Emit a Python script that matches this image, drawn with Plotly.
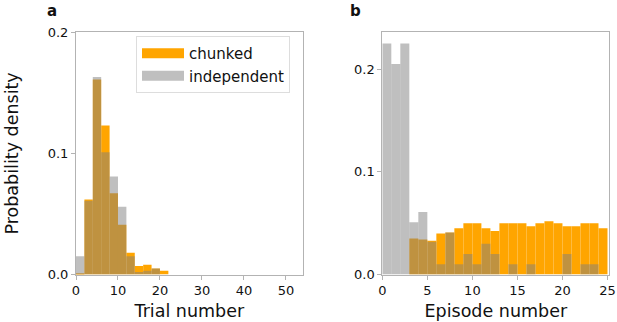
import plotly.graph_objects as go

# ---- data: panel a (trial number, bin width 2) ----
trial_bin_left = [0, 2, 4, 6, 8, 10, 12, 14, 16, 18, 20]
trial_bin_width = 2
trial_chunked = [0.001, 0.062, 0.161, 0.123, 0.067, 0.041, 0.018, 0.007, 0.008, 0.005, 0.003]
trial_independent = [0.015, 0.061, 0.163, 0.101, 0.081, 0.056, 0.015, 0.002, 0.003, 0.005, 0.0]

# ---- data: panel b (episode number, bin width 1) ----
episode_bin_left = list(range(0, 25))
episode_bin_width = 1
episode_chunked = [0.0, 0.0, 0.0, 0.035, 0.034, 0.033, 0.040, 0.041, 0.045, 0.050,
                   0.050, 0.045, 0.0425, 0.050, 0.050, 0.050, 0.047, 0.050, 0.052, 0.050,
                   0.047, 0.047, 0.050, 0.050, 0.045]
episode_independent = [0.225, 0.205, 0.225, 0.051, 0.061, 0.032, 0.010, 0.041, 0.010, 0.020,
                       0.010, 0.030, 0.020, 0.0, 0.010, 0.0, 0.010, 0.0, 0.0, 0.0,
                       0.020, 0.0, 0.010, 0.010, 0.0]

x_ticks_a = [0, 10, 20, 30, 40, 50]
x_ticks_b = [0, 5, 10, 15, 20, 25]
y_ticks = [0.0, 0.1, 0.2]
series_names = ["chunked", "independent"]

ORANGE = "#FFA500"
GRAY = "rgba(128,128,128,0.5)"
FONT = "DejaVu Sans"
SPINE = "#b3b3b3"
W, H = 617, 322

fig = go.Figure()

def centers(lefts, w):
    return [l + w / 2 for l in lefts]

fig.add_trace(go.Bar(x=centers(trial_bin_left, trial_bin_width), y=trial_chunked,
                     width=trial_bin_width, marker=dict(color=ORANGE, line=dict(width=0)),
                     showlegend=False, xaxis="x", yaxis="y"))
fig.add_trace(go.Bar(x=centers(trial_bin_left, trial_bin_width), y=trial_independent,
                     width=trial_bin_width, marker=dict(color=GRAY, line=dict(width=0)),
                     showlegend=False, xaxis="x", yaxis="y"))
fig.add_trace(go.Bar(x=centers(episode_bin_left, episode_bin_width), y=episode_chunked,
                     width=episode_bin_width, marker=dict(color=ORANGE, line=dict(width=0)),
                     showlegend=False, xaxis="x2", yaxis="y2"))
fig.add_trace(go.Bar(x=centers(episode_bin_left, episode_bin_width), y=episode_independent,
                     width=episode_bin_width, marker=dict(color=GRAY, line=dict(width=0)),
                     showlegend=False, xaxis="x2", yaxis="y2"))

# legend proxies
for name, col in zip(series_names, [ORANGE, "rgb(191,191,191)"]):
    fig.add_trace(go.Scatter(x=[None], y=[None], mode="lines", name=name,
                             line=dict(color=col, width=10), xaxis="x", yaxis="y"))

ydom = [1 - 274.5 / H, 1 - 32.3 / H]
axis_common = dict(showline=True, mirror=True, linecolor=SPINE, linewidth=1,
                   ticks="outside", ticklen=4, tickcolor=SPINE, tickwidth=1,
                   showgrid=False, zeroline=False, automargin=False,
                   tickfont=dict(family=FONT, size=13, color="#111"))

fig.update_layout(
    template="none",
    width=W, height=H, margin=dict(l=0, r=0, t=0, b=0, autoexpand=False),
    paper_bgcolor="white", plot_bgcolor="white",
    barmode="overlay",
    font=dict(family=FONT, color="#111"),
    xaxis=dict(domain=[76 / W, 302.7 / W], range=[0, 54], tickvals=x_ticks_a,
               title=dict(text="Trial number", font=dict(size=17.5), standoff=7),
               anchor="y", **axis_common),
    yaxis=dict(domain=ydom, range=[0, 0.2], tickvals=y_ticks, tickformat=".1f",
               title=dict(text="Probability density", font=dict(size=17.5), standoff=24),
               anchor="x", **axis_common),
    xaxis2=dict(domain=[382.3 / W, 609.3 / W], range=[0, 25.2], tickvals=x_ticks_b,
                title=dict(text="Episode number", font=dict(size=17.5), standoff=7),
                anchor="y2", **axis_common),
    yaxis2=dict(domain=ydom, range=[0, 0.236], tickvals=y_ticks, tickformat=".1f",
                anchor="x2", **axis_common),
    legend=dict(x=136 / W, y=1 - 36 / H, xanchor="left", yanchor="top",
                bgcolor="white", bordercolor="#dddddd", borderwidth=1,
                font=dict(family=FONT, size=15, color="#111"),
                tracegroupgap=0, itemwidth=42),
    annotations=[
        dict(text="<b>a</b>", x=45 / W, y=1.0, xref="paper", yref="paper",
             xanchor="left", yanchor="top", showarrow=False,
             font=dict(family=FONT, size=15, color="#111")),
        dict(text="<b>b</b>", x=348 / W, y=1.0, xref="paper", yref="paper",
             xanchor="left", yanchor="top", showarrow=False,
             font=dict(family=FONT, size=15, color="#111")),
    ],
)

fig.write_html("out.html", config={"displayModeBar": False},
               post_script="document.body.style.margin='0px';document.body.style.padding='0px';")
